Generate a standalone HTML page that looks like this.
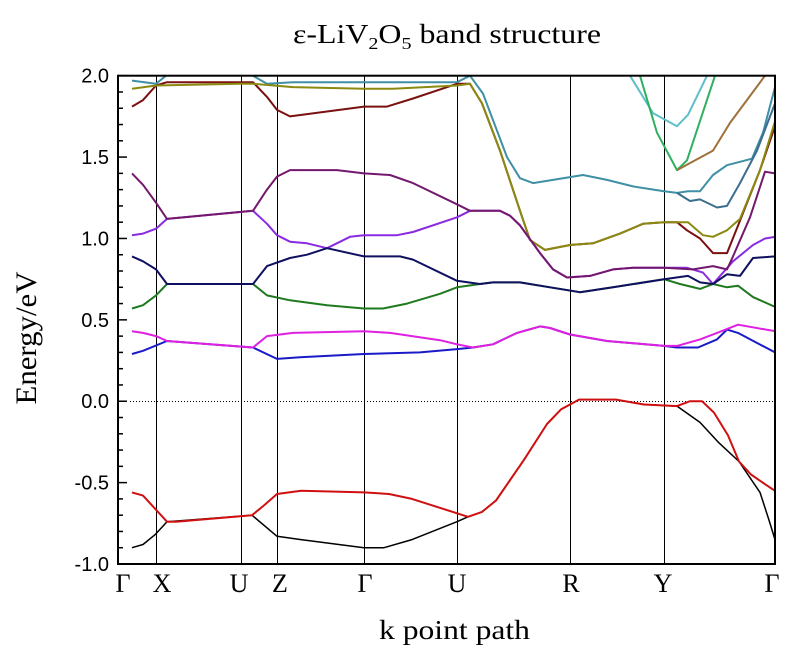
<!DOCTYPE html>
<html><head><meta charset="utf-8"><style>
body{margin:0;background:#fff;width:787px;height:659px;overflow:hidden}
svg{display:block}
</style></head><body>
<svg id="chart" width="787" height="659" xmlns="http://www.w3.org/2000/svg">
<text x="293" y="43" textLength="308" lengthAdjust="spacingAndGlyphs" font-family="Liberation Serif, serif" font-size="27">ε-LiV<tspan font-size="17" dy="6">2</tspan><tspan dy="-6">O</tspan><tspan font-size="17" dy="6">5</tspan><tspan dy="-6"> band structure</tspan></text>
<text transform="translate(36,338) rotate(-90)" text-anchor="middle" textLength="133" lengthAdjust="spacingAndGlyphs" font-family="Liberation Serif, serif" font-size="30">Energy/eV</text>
<text x="379" y="639" textLength="151" lengthAdjust="spacingAndGlyphs" font-family="Liberation Serif, serif" font-size="27">k point path</text>
<defs><clipPath id="pc"><rect x="118" y="75" width="657" height="489"/></clipPath></defs>
<g id="grid"></g>
<g id="bands" clip-path="url(#pc)"></g>
<g id="axes"></g>
</svg>
<script>
const eMin=-1.0, eMax=2.0, kMin=118, kMax=775;
const yTicks=[2.0,1.5,1.0,0.5,0.0,-0.5,-1.0];
const yTickLabels=["2.0","1.5","1.0","0.5","0.0","-0.5","-1.0"];
const symK=[124,155.7,241,277,364,457,570,664,775];
const symLabelK=[123,162,239,280,365,457,571,663,772];
const symLabels=["Γ","X","U","Z","Γ","U","R","Y","Γ"];
const redK=[132,143,167,176,252,264,277,301,364,389,412,468,482,496,524,547,561,579,616,644,677,690,702,714,728,739,751,765,775];
const redE=[-0.56,-0.58,-0.74,-0.74,-0.70,-0.64,-0.57,-0.55,-0.56,-0.57,-0.60,-0.71,-0.68,-0.61,-0.36,-0.14,-0.05,0.01,0.01,-0.02,-0.03,0.0,0.0,-0.07,-0.21,-0.37,-0.45,-0.51,-0.55];
const blackK=[132,143,155,167,252,277,301,364,384,412,457,468,482,496,524,547,561,579,616,644,677,700,718,739,760,769,775];
const blackE=[-0.90,-0.88,-0.82,-0.74,-0.70,-0.83,-0.85,-0.90,-0.90,-0.85,-0.74,-0.71,-0.68,-0.61,-0.36,-0.14,-0.05,0.01,0.01,-0.02,-0.03,-0.13,-0.25,-0.37,-0.56,-0.73,-0.85];
const blueK=[132,143,167,253,277,300,364,420,457,473,493,517,540,550,570,607,664,677,698,717,727,738,775];
const blueE=[0.29,0.31,0.37,0.33,0.26,0.27,0.29,0.30,0.32,0.33,0.35,0.42,0.46,0.45,0.41,0.37,0.34,0.33,0.33,0.38,0.44,0.42,0.30];
const magK=[132,143,156,167,253,267,293,364,390,440,457,473,493,517,540,550,570,607,664,677,700,717,738,775];
const magE=[0.43,0.42,0.40,0.37,0.33,0.40,0.42,0.43,0.42,0.375,0.35,0.33,0.35,0.42,0.46,0.45,0.41,0.37,0.34,0.34,0.38,0.42,0.47,0.43];
const greenK=[132,143,156,167,253,267,290,327,364,383,407,440,457,480,493,520,550,580,613,664,680,700,713,727,738,753,775];
const greenE=[0.57,0.59,0.65,0.72,0.72,0.65,0.62,0.59,0.57,0.57,0.60,0.66,0.70,0.72,0.73,0.73,0.70,0.67,0.70,0.75,0.72,0.69,0.72,0.70,0.71,0.64,0.58];
const navyK=[132,143,156,167,253,267,290,307,327,364,400,413,457,480,493,520,550,580,613,664,688,700,713,727,740,753,775];
const navyE=[0.89,0.86,0.81,0.72,0.72,0.83,0.88,0.90,0.94,0.89,0.89,0.87,0.74,0.72,0.73,0.73,0.70,0.67,0.70,0.75,0.77,0.73,0.72,0.78,0.77,0.88,0.89];
const violetK=[132,143,156,167,253,267,277,290,307,327,350,364,397,413,457,470,500,510,520,540,553,567,590,613,633,664,687,703,713,733,753,765,775];
const violetE=[1.02,1.03,1.06,1.12,1.17,1.09,1.02,0.98,0.97,0.94,1.01,1.02,1.02,1.04,1.13,1.17,1.17,1.14,1.08,0.91,0.81,0.76,0.77,0.81,0.82,0.82,0.82,0.79,0.72,0.86,0.96,1.00,1.01];
const plumK=[132,143,156,167,253,267,277,290,337,364,390,413,457,470,500,510,520,540,553,567,590,613,633,664,693,713,727,733,750,765,775];
const plumE=[1.40,1.33,1.22,1.12,1.17,1.30,1.38,1.42,1.42,1.40,1.39,1.34,1.21,1.17,1.17,1.14,1.08,0.91,0.81,0.76,0.77,0.81,0.82,0.82,0.81,0.83,0.81,0.89,1.13,1.41,1.40];
const darkRedK=[132,143,156,167,253,267,277,290,327,364,387,413,457,470,482,500,520,530,545,570,593,620,643,664,677,687,700,713,727,740,760,775];
const darkRedE=[1.81,1.85,1.94,1.96,1.96,1.87,1.79,1.75,1.78,1.81,1.81,1.86,1.95,1.95,1.83,1.54,1.17,0.99,0.93,0.96,0.97,1.03,1.09,1.10,1.10,1.05,1.00,0.91,0.91,1.11,1.42,1.69];
const oliveK=[132,156,240,253,293,364,393,457,470,482,500,520,530,545,570,593,620,643,664,688,703,713,727,740,760,775];
const oliveE=[1.92,1.94,1.95,1.95,1.93,1.92,1.92,1.94,1.95,1.83,1.54,1.17,0.99,0.93,0.96,0.97,1.03,1.09,1.10,1.10,1.02,1.01,1.05,1.12,1.42,1.72];
const tealK=[132,156,170,240,250,267,293,364,443,457,470,483,507,520,533,573,583,607,633,664,677,688,700,713,727,752,763,775];
const tealE=[1.97,1.95,2.02,2.02,2.01,1.95,1.96,1.96,1.96,1.96,2.0,1.89,1.50,1.37,1.34,1.38,1.39,1.36,1.32,1.29,1.28,1.29,1.29,1.39,1.45,1.49,1.65,1.93];
const steelK=[677,690,700,717,727,740,757,775];
const steelE=[1.28,1.23,1.24,1.19,1.20,1.34,1.54,1.83];
const cyanK=[630,653,677,688,707];
const cyanE=[2.0,1.77,1.69,1.76,2.0];
const greenVK=[640,657,677,687,715];
const greenVE=[2.0,1.65,1.42,1.48,2.0];
const brownK=[677,713,730,765];
const brownE=[1.42,1.54,1.71,2.0];

const NS="http://www.w3.org/2000/svg";
const X0=118,X1=775,Y0=75.7,Y1=564;
function xOf(k){return X0+(k-kMin)/(kMax-kMin)*(X1-X0);}
function yOf(e){return Y0+(eMax-e)/(eMax-eMin)*(Y1-Y0);}
function mk(tag,parent,attrs){const el=document.createElementNS(NS,tag);for(const a in attrs)el.setAttribute(a,attrs[a]);parent.appendChild(el);return el;}
const grid=document.getElementById('grid'),bands=document.getElementById('bands'),axes=document.getElementById('axes');
for(let i=1;i<symK.length-1;i++){
  const xx=Math.round(xOf(symK[i]))+0.5;
  const l=mk('line',grid,{x1:xx,x2:xx,y1:Y0,y2:Y1,stroke:'#000','stroke-width':1});
  
  
}
const zy=Math.round(yOf(0))+0.5;
const zl=mk('line',grid,{x1:130,x2:775,y1:zy,y2:zy,stroke:'#000','stroke-width':1,'stroke-dasharray':'1,2'});


const series=[
 ['band-teal',tealK,tealE,'#3f8fa5'],['band-steel',steelK,steelE,'#3c6e8f'],['band-cyan',cyanK,cyanE,'#5fbfc8'],
 ['band-green-v',greenVK,greenVE,'#2fb060'],['band-brown',brownK,brownE,'#a0703a'],
 ['band-dark-red',darkRedK,darkRedE,'#7a1010'],['band-olive',oliveK,oliveE,'#8a8a10'],
 ['band-violet',violetK,violetE,'#8a2be2'],['band-plum',plumK,plumE,'#74186e'],
 ['band-green',greenK,greenE,'#1f7a1f'],['band-navy',navyK,navyE,'#101060'],
 ['band-blue',blueK,blueE,'#1a1ac8'],['band-magenta',magK,magE,'#e020e0'],
 ['band-black',blackK,blackE,'#000000'],['band-red',redK,redE,'#d01010']];
series.forEach(s=>{
  const pts=s[1].map((k,i)=>xOf(k).toFixed(1)+','+yOf(s[2][i]).toFixed(1)).join(' ');
  const p=mk('polyline',bands,{points:pts,fill:'none',stroke:s[3],'stroke-width':s[0]==='band-black'?1.5:2,'stroke-linejoin':'round'});
  
  
});
const fr=mk('rect',axes,{x:X0,y:Y0,width:X1-X0,height:Y1-Y0,fill:'none',stroke:'#000','stroke-width':2});


for(let v=-10;v<=20;v++){
  const e=v/10, major=(v%5===0);
  const t=mk('line',axes,{x1:X0,x2:X0+(major?9:5),y1:yOf(e),y2:yOf(e),stroke:'#000','stroke-width':1.5});
  
  
}
yTicks.forEach((e,i)=>{
  const t=mk('text',axes,{x:109,y:yOf(e)+7,'text-anchor':'end','font-family':'Liberation Sans, sans-serif','font-size':20});
  t.textContent=yTickLabels[i];
  
  
});
symLabels.forEach((lab,i)=>{
  const t=mk('text',axes,{x:xOf(symLabelK[i]),y:592,'text-anchor':'middle','font-family':'Liberation Serif, serif','font-size':26});
  t.textContent=lab;
  
  
});
</script>
</body></html>
